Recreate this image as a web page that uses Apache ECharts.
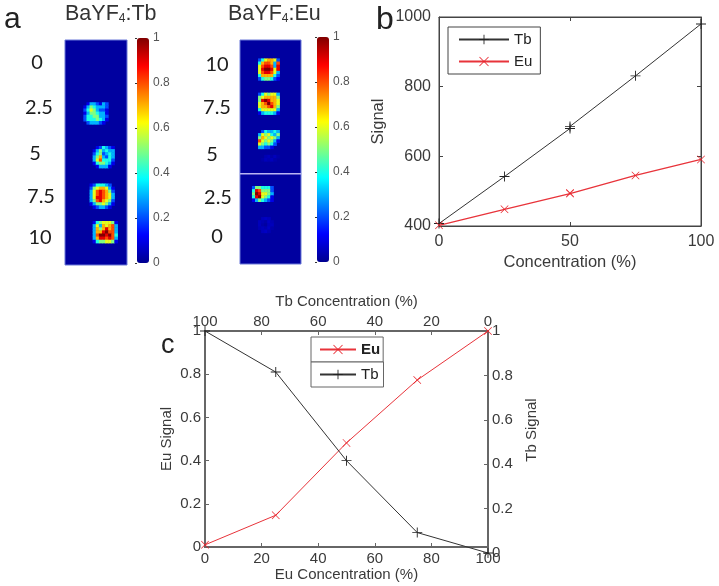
<!DOCTYPE html>
<html><head><meta charset="utf-8">
<style>html,body{margin:0;padding:0;background:#fff}#c{width:719px;height:586px;filter:blur(0.45px)}</style>
<script src="https://cdn.jsdelivr.net/npm/echarts@6/dist/echarts.min.js"></script>
</head><body><div id="c"></div>
<script>
// ---- panel b data
const bConc   = [0, 25, 50, 50, 75, 100];
const bTb     = [407, 542, 680, 686, 831, 980];
const bEu     = [402, 448, 493, 495, 545, 591];
// ---- panel c data
const cEuConc = [0, 25, 50, 75, 100];
const cEu     = [0.01, 0.147, 0.482, 0.773, 1];
const cTbConc = [100, 75, 50, 25, 0];
const cTb     = [1, 0.815, 0.416, 0.092, 0];
// ---- panel a labels
const tbDoses = ['0', '2.5', '5', '7.5', '10'];
const euDoses = ['10', '7.5', '5', '2.5', '0'];
// ---- panel a spots (signal in tenths of the colour scale)
const tb25 = [
 [0,1,3,3,2,1,3,2],
 [1,3,5,4,3,3,3,2],
 [2,4,6,5,3,2,2,1],
 [1,3,5,5,4,3,3,1],
 [2,4,4,5,5,3,3,2],
 [2,4,4,4,5,4,3,1],
 [0,2,3,3,3,2,1,0]];
const tb50 = [
 [0,1,2,4,3,2,1],
 [1,3,5,3,4,3,3],
 [2,4,5,2,3,4,3],
 [3,5,7,3,2,4,3],
 [3,6,8,4,4,4,2],
 [1,4,5,5,4,3,1],
 [0,1,3,3,3,1,0]];
const tb75 = [
 [1,2,4,4,4,3,2,0],
 [2,5,6,7,7,6,3,1],
 [3,6,8,9,8,7,5,2],
 [3,6,8,9,8,7,6,3],
 [3,6,9,9,8,7,6,3],
 [3,5,8,9,7,6,5,2],
 [1,3,5,5,6,5,3,1],
 [0,1,2,3,3,2,1,0]];
const tb100 = [
 [1,4,5,6,6,6,5,1],
 [3,6,3,7,6,7,8,3],
 [3,7,5,7,9,7,8,3],
 [3,7,7,9,10,8,8,3],
 [3,8,10,10,9,10,8,4],
 [3,7,9,9,8,9,8,3],
 [1,4,5,5,6,6,5,1]];
const eu100 = [
 [2,4,6,7,7,6,2],
 [4,7,8,8,7,3,8],
 [6,8,9,9,8,3,9],
 [6,9,10,10,9,6,9],
 [6,8,9,9,8,6,3],
 [4,7,7,7,7,4,2],
 [2,4,5,5,4,2,1]];
const eu75 = [
 [2,4,6,5,6,6,3],
 [5,6,7,7,7,7,5],
 [5,9,10,9,7,7,6],
 [6,7,8,10,8,7,6],
 [6,7,7,8,9,7,5],
 [4,6,6,6,6,6,3],
 [1,3,4,4,4,3,1]];
const eu50 = [
 [0,2,4,3,3,4,3],
 [3,6,5,6,4,3,5],
 [5,7,6,5,6,5,3],
 [8,6,5,6,5,3,1],
 [6,5,4,5,4,2,0],
 [3,3,2,2,1,0,0]];
const eu25 = [
 [2,5,5,4,4,4,2],
 [4,9,8,5,5,5,2],
 [5,10,9,6,6,5,3],
 [4,9,10,6,5,4,1],
 [1,3,5,4,3,2,1]];
const eu00 = [
 [0,0.5,0.6,0.5,0],
 [0.5,0.4,0.3,0.6,0.4],
 [0.5,0.3,0.2,0.5,0.5],
 [0.4,0.5,0.4,0.6,0.3],
 [0,0.5,0.6,0.4,0]];
const euFaint = [
 [0,0.4,0.5,0.3,0.5,0.3],
 [0.3,0.5,0.4,0.5,0.3,0]];

const jet = ['#00008f','#0000ff','#0080ff','#00ffff','#80ff80','#ffff00','#ff8000','#ff0000','#800000'];
const heatCols = 20, heatRows = 72;
function cells(placed){
  const out = [];
  placed.forEach(([m,c0,r0]) => m.forEach((row,r) => row.forEach((v,c) => {
    if (v>0) out.push([c0+c, r0+r, v/10]);
  })));
  return out;
}
const idx = n => Array.from({length:n},(_,i)=>String(i));
const plus = 'path://M0 4.55H4.55V0H5.45V4.55H10V5.45H5.45V10H4.55V5.45H0Z';
const cross = 'path://M0.6 0L5 4.4L9.4 0L10 0.6L5.6 5L10 9.4L9.4 10L5 5.6L0.6 10L0 9.4L4.4 5L0 0.6Z';

const sans = '"Liberation Sans",Arial,sans-serif';
const txt = '#3a3a3a';
const axB = '#444', axC = '#666';

function heatAxes(g){
  return {
    x:{type:'category',gridIndex:g,data:idx(heatCols),show:false},
    y:{type:'category',gridIndex:g,data:idx(heatRows),inverse:true,show:false}
  };
}
function barAxis(g){
  return {
    x:{type:'value',gridIndex:g,show:false,min:0,max:1},
    y:{type:'value',gridIndex:g,position:'right',min:0,max:1,interval:0.2,
       axisLine:{show:false},splitLine:{show:false},
       axisTick:{show:true,inside:true,length:2,lineStyle:{color:'#333'}},
       axisLabel:{fontFamily:sans,fontSize:12,color:'#555',margin:4,
         formatter:v=> (v===0||v===1)?String(v):v.toFixed(1)}}
  };
}
const h0=heatAxes(0),h1=heatAxes(1),b2=barAxis(2),b3=barAxis(3);
const plain = v=>String(v);
const frac = v=>(v===0||v===1)?String(v):v.toFixed(1);
const mainAxis = (c,w)=>({
  axisLine:{show:true,onZero:false,lineStyle:{color:c,width:w}},
  axisTick:{show:true,inside:true,length:4,lineStyle:{color:c,width:1}},
  splitLine:{show:false},
  axisLabel:{fontFamily:sans,fontSize:16,color:txt,formatter:plain},
  nameTextStyle:{fontFamily:sans,fontSize:16.5,color:txt}
});
const bare = (c,w)=>Object.assign(mainAxis(c,w),{axisLabel:{show:false}});
const cLabel = extra=>Object.assign({fontFamily:sans,fontSize:15,color:txt,margin:4,formatter:plain},extra);
const cName = {fontFamily:sans,fontSize:15,color:txt};
const legBase = {selectedMode:false,orient:'vertical',backgroundColor:'#fff',borderWidth:1,
  textStyle:{fontFamily:sans,color:'#222'}};

const tbTextX=[37,39,35,41,40], tbTextY=[63,108,154,197,238];
const euTextX=[217,217,212,218,217], euTextY=[65,108,155,198,237];
const dose=(s,x,y)=>({type:'text',x,y,z:50,style:{text:s,x:0,y:0,align:'center',verticalAlign:'middle',
  font:'20px Lato,sans-serif',fill:'#1d1d1d'}});
const big=(s,x,y,size)=>({type:'text',x,y,z:50,style:{text:s,align:'left',verticalAlign:'middle',
  font:size+'px '+sans,fill:'#222'}});
const titleEl=(x,y,a,b)=>({type:'text',x,y,z:50,style:{
  text:'{m|'+a+'}{s|4}{m|'+b+'}',align:'left',verticalAlign:'middle',
  rich:{m:{font:'21.5px '+sans,fill:'#333'},s:{font:'12px '+sans,fill:'#333',verticalAlign:'bottom',padding:[10,0,0,0]}}}});

const chart = echarts.init(document.getElementById('c'),null,{renderer:'canvas'});
chart.setOption({
  animation:false,
  backgroundColor:'#fff',
  grid:[
    {left:65,top:40,width:62,height:225,show:true,backgroundColor:'#0000a0',borderColor:'#6a78d8',borderWidth:1},
    {left:240,top:40,width:61,height:224,show:true,backgroundColor:'#0000a0',borderColor:'#6a78d8',borderWidth:1},
    {left:137,top:38,width:12,height:225},
    {left:317,top:37,width:12,height:225},
    {left:439,top:17,width:262,height:209,show:true,borderColor:axB,borderWidth:1},
    {left:205,top:331,width:283,height:216,show:true,borderColor:axC,borderWidth:1.8},
    {left:205,top:331,width:283,height:222}
  ],
  xAxis:[
    h0.x,h1.x,b2.x,b3.x,
    Object.assign(mainAxis(axB,1),{type:'value',gridIndex:4,min:0,max:100,interval:50,
      name:'Concentration (%)',nameLocation:'middle',nameGap:28}),
    Object.assign(bare(axB,1),{type:'value',gridIndex:4,position:'top',min:0,max:100,interval:50}),
    Object.assign(mainAxis(axC,1.8),{type:'value',gridIndex:5,min:0,max:100,interval:20,
      axisLabel:cLabel({margin:4}),
      name:'Eu Concentration (%)',nameLocation:'middle',nameGap:19,nameTextStyle:cName}),
    Object.assign(mainAxis(axC,1.8),{type:'value',gridIndex:6,position:'top',inverse:true,min:0,max:100,interval:20,
      name:'Tb Concentration (%)',nameLocation:'middle',nameGap:22,axisLabel:cLabel({margin:2}),nameTextStyle:cName})
  ],
  yAxis:[
    h0.y,h1.y,b2.y,b3.y,
    Object.assign(mainAxis(axB,1),{type:'value',gridIndex:4,min:400,max:1000,interval:200,
      name:'Signal',nameLocation:'middle',nameGap:52,nameRotate:90}),
    Object.assign(bare(axB,1),{type:'value',gridIndex:4,position:'right',min:400,max:1000,interval:200}),
    Object.assign(mainAxis(axC,1.8),{type:'value',gridIndex:5,min:0,max:1,interval:0.2,
      axisLabel:cLabel({formatter:frac}),
      name:'Eu Signal',nameLocation:'middle',nameGap:31,nameRotate:90,nameTextStyle:cName}),
    Object.assign(mainAxis(axC,1.8),{type:'value',gridIndex:6,position:'right',min:0,max:1,interval:0.2,
      axisLabel:cLabel({formatter:frac})})
  ],
  visualMap:[
    {type:'continuous',seriesIndex:0,min:0,max:1,left:137,top:38,itemWidth:12,itemHeight:225,padding:0,
     text:['',''],showLabel:false,calculable:false,hoverLink:false,inRange:{color:jet}},
    {type:'continuous',seriesIndex:1,min:0,max:1,left:317,top:37,itemWidth:12,itemHeight:225,padding:0,
     text:['',''],showLabel:false,calculable:false,hoverLink:false,inRange:{color:jet}}
  ],
  legend:[
    Object.assign({},legBase,{left:448,top:27,data:['Tb','Eu'],itemWidth:50,itemHeight:12,itemGap:7,
      padding:[5,8,5,10],borderColor:axB,textStyle:{fontFamily:sans,color:'#222',fontSize:15}}),
    Object.assign({},legBase,{left:311,top:337,data:[{name:'Eu',textStyle:{fontWeight:'bold'}}],itemWidth:36,itemHeight:12,
      padding:[5,3,5,8],borderColor:axC,textStyle:{fontFamily:sans,color:'#222',fontSize:15}}),
    Object.assign({},legBase,{left:311,top:362,data:['Tb'],itemWidth:36,itemHeight:12,
      padding:[5,5,5,8],borderColor:axC,textStyle:{fontFamily:sans,color:'#222',fontSize:15}})
  ],
  graphic:{elements:[
    big('a',4,20,30), big('b',376,20,32), big('c',161,346,27),
    titleEl(65,14,'BaYF',':Tb'), titleEl(228,14,'BaYF',':Eu'),
    ...tbDoses.map((s,i)=>dose(s,tbTextX[i],tbTextY[i])),
    ...euDoses.map((s,i)=>dose(s,euTextX[i],euTextY[i])),
    {type:'text',x:532,y:430,rotation:Math.PI/2,z:50,style:{text:'Tb Signal',align:'center',verticalAlign:'middle',
      font:'15px '+sans,fill:txt}},
    {type:'rect',z:60,shape:{x:240,y:173,width:61,height:1.5},style:{fill:'#b9b4f2'}}
  ]},
  series:[
    {type:'heatmap',xAxisIndex:0,yAxisIndex:0,progressive:0,
     data:cells([[tb25,6,20],[tb50,9,34],[tb75,8,46],[tb100,9,58]])},
    {type:'heatmap',xAxisIndex:1,yAxisIndex:1,progressive:0,
     data:cells([[eu100,6,6],[eu75,6,17],[eu50,6,29],[euFaint,7,37],[eu25,4,47],[eu00,6,57]])},
    {name:'Tb',type:'line',xAxisIndex:4,yAxisIndex:4,data:bConc.map((x,i)=>[x,bTb[i]]),
     symbol:plus,symbolSize:10,color:'#222',lineStyle:{width:1,color:'#333'},clip:false},
    {name:'Eu',type:'line',xAxisIndex:4,yAxisIndex:4,data:bConc.map((x,i)=>[x,bEu[i]]),
     symbol:cross,symbolSize:8,color:'#e8232a',lineStyle:{width:1.3,color:'#e8333a'},clip:false},
    {name:'Eu',type:'line',xAxisIndex:6,yAxisIndex:6,data:cEuConc.map((x,i)=>[x,cEu[i]]),z:3,
     symbol:cross,symbolSize:8,color:'#e8232a',lineStyle:{width:1,color:'#e8333a'},clip:false},
    {name:'Tb',type:'line',xAxisIndex:7,yAxisIndex:7,data:cTbConc.map((x,i)=>[x,cTb[i]]),
     symbol:plus,symbolSize:10,color:'#222',lineStyle:{width:1,color:'#333'},clip:false}
  ]
});
</script></body></html>
